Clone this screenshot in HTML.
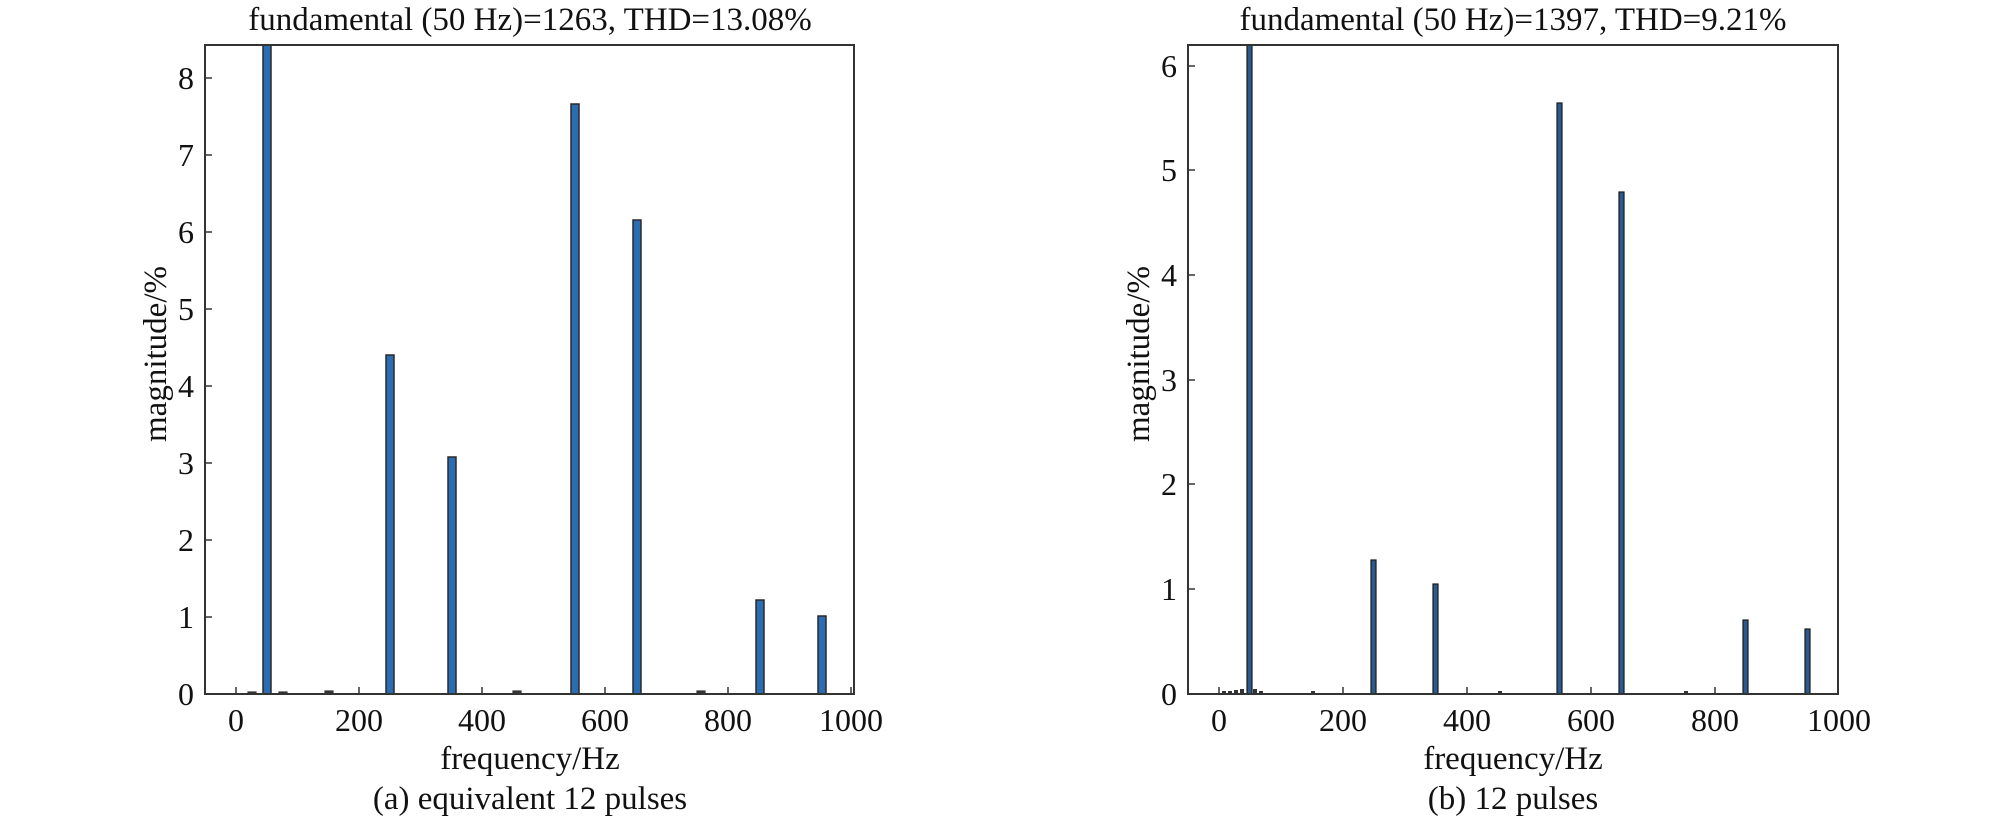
<!DOCTYPE html>
<html><head><meta charset="utf-8"><style>
html,body{margin:0;padding:0;background:#fff}
svg{display:block}
text{font-family:"Liberation Serif",serif;fill:#111}
</style></head><body>
<svg width="2008" height="817" xmlns="http://www.w3.org/2000/svg">
<!-- LEFT -->
<g>
<text x="530" y="30" font-size="33" text-anchor="middle">fundamental (50 Hz)=1263, THD=13.08%</text>
<g stroke="#333" stroke-width="1.2">
<rect x="248" y="692" width="8" height="2" fill="#333"/>
<rect x="279" y="692" width="8" height="2" fill="#333"/>
<rect x="325" y="691" width="8" height="3" fill="#333"/>
<rect x="513" y="691" width="8" height="3" fill="#333"/>
<rect x="697" y="691" width="8" height="3" fill="#333"/>
</g>
<g fill="#2b6db3" stroke="#2a2a2a" stroke-width="1.5">
<rect x="263" y="45" width="8" height="649"/>
<rect x="386" y="355" width="8" height="339"/>
<rect x="448" y="457" width="8" height="237"/>
<rect x="571" y="104" width="8" height="590"/>
<rect x="633" y="220" width="8" height="474"/>
<rect x="756" y="600" width="8" height="94"/>
<rect x="818" y="616" width="8" height="78"/>
</g>
<rect x="205" y="45" width="649" height="649" fill="none" stroke="#333" stroke-width="2"/>
<g stroke="#333" stroke-width="1.5">
<line x1="236" y1="694" x2="236" y2="687"/><line x1="359" y1="694" x2="359" y2="687"/>
<line x1="482" y1="694" x2="482" y2="687"/><line x1="605" y1="694" x2="605" y2="687"/>
<line x1="728" y1="694" x2="728" y2="687"/><line x1="851" y1="694" x2="851" y2="687"/>
<line x1="205" y1="617" x2="212" y2="617"/><line x1="205" y1="540" x2="212" y2="540"/>
<line x1="205" y1="463" x2="212" y2="463"/><line x1="205" y1="386" x2="212" y2="386"/>
<line x1="205" y1="309" x2="212" y2="309"/><line x1="205" y1="232" x2="212" y2="232"/>
<line x1="205" y1="155" x2="212" y2="155"/><line x1="205" y1="78" x2="212" y2="78"/>
</g>
<g font-size="32" text-anchor="end">
<text x="194" y="705">0</text><text x="194" y="628">1</text><text x="194" y="551">2</text>
<text x="194" y="474">3</text><text x="194" y="397">4</text><text x="194" y="320">5</text>
<text x="194" y="243">6</text><text x="194" y="166">7</text><text x="194" y="89">8</text>
</g>
<g font-size="32" text-anchor="middle">
<text x="236" y="731">0</text><text x="359" y="731">200</text><text x="482" y="731">400</text>
<text x="605" y="731">600</text><text x="728" y="731">800</text><text x="851" y="731">1000</text>
</g>
<text x="530" y="769" font-size="33" text-anchor="middle">frequency/Hz</text>
<text x="530" y="809" font-size="33" text-anchor="middle">(a) equivalent 12 pulses</text>
<text transform="translate(166,354) rotate(-90)" font-size="33" text-anchor="middle">magnitude/%</text>
</g>
<!-- RIGHT -->
<g>
<text x="1513" y="30" font-size="33" text-anchor="middle">fundamental (50 Hz)=1397, THD=9.21%</text>
<g fill="#333">
<rect x="1222" y="691" width="4" height="3"/><rect x="1228" y="691" width="4" height="3"/>
<rect x="1234" y="690" width="4" height="4"/><rect x="1240" y="689" width="4" height="5"/>
<rect x="1253" y="689" width="4" height="5"/><rect x="1259" y="691" width="4" height="3"/>
<rect x="1311" y="691" width="4" height="3"/><rect x="1498" y="691" width="4" height="3"/>
<rect x="1684" y="691" width="4" height="3"/>
</g>
<g fill="#2a5a8f" stroke="#1a1a1a" stroke-width="1.2">
<rect x="1247" y="45" width="5" height="649"/>
<rect x="1371" y="560" width="5" height="134"/>
<rect x="1433" y="584" width="5" height="110"/>
<rect x="1557" y="103" width="5" height="591"/>
<rect x="1619" y="192" width="5" height="502"/>
<rect x="1743" y="620" width="5" height="74"/>
<rect x="1805" y="629" width="5" height="65"/>
</g>
<rect x="1188" y="45" width="650" height="649" fill="none" stroke="#333" stroke-width="2"/>
<g stroke="#333" stroke-width="1.5">
<line x1="1219" y1="694" x2="1219" y2="687"/><line x1="1343" y1="694" x2="1343" y2="687"/>
<line x1="1467" y1="694" x2="1467" y2="687"/><line x1="1591" y1="694" x2="1591" y2="687"/>
<line x1="1715" y1="694" x2="1715" y2="687"/>
<line x1="1188" y1="589" x2="1195" y2="589"/><line x1="1188" y1="484" x2="1195" y2="484"/>
<line x1="1188" y1="380" x2="1195" y2="380"/><line x1="1188" y1="275" x2="1195" y2="275"/>
<line x1="1188" y1="170" x2="1195" y2="170"/><line x1="1188" y1="66" x2="1195" y2="66"/>
</g>
<g font-size="32" text-anchor="end">
<text x="1177" y="705">0</text><text x="1177" y="600">1</text><text x="1177" y="495">2</text>
<text x="1177" y="391">3</text><text x="1177" y="286">4</text><text x="1177" y="181">5</text>
<text x="1177" y="77">6</text>
</g>
<g font-size="32" text-anchor="middle">
<text x="1219" y="731">0</text><text x="1343" y="731">200</text><text x="1467" y="731">400</text>
<text x="1591" y="731">600</text><text x="1715" y="731">800</text><text x="1839" y="731">1000</text>
</g>
<text x="1513" y="769" font-size="33" text-anchor="middle">frequency/Hz</text>
<text x="1513" y="809" font-size="33" text-anchor="middle">(b) 12 pulses</text>
<text transform="translate(1149,354) rotate(-90)" font-size="33" text-anchor="middle">magnitude/%</text>
</g>
</svg>
</body></html>
